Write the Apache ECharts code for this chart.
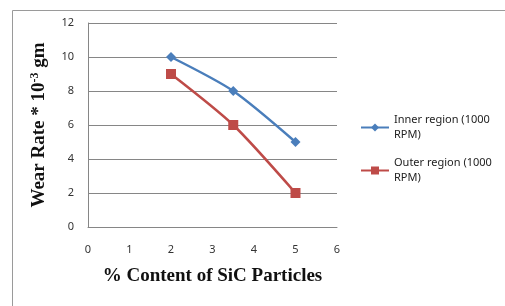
<!DOCTYPE html>
<html>
<head>
<meta charset="utf-8">
<script src="https://cdn.jsdelivr.net/npm/echarts@6/dist/echarts.min.js"></script>
<style>
  html, body { margin: 0; padding: 0; background: #fff; }
  #chart { width: 505px; height: 306px; }
</style>
</head>
<body>
<div id="chart"></div>
<script>
var seriesNames = ['Inner region (1000\nRPM)', 'Outer region (1000\nRPM)'];
var sicContent = [2, 3.5, 5];
var innerWear = [10, 8, 5];
var outerWear = [9, 6, 2];

function pairs(xs, ys) {
  return xs.map(function (x, i) { return [x, ys[i]]; });
}

var myChart = echarts.init(document.getElementById('chart'));
myChart.setOption({
  animation: false,
  graphic: [{
    type: 'rect',
    left: 10,
    top: 8,
    shape: { width: 600, height: 400 },
    style: { fill: 'none', stroke: '#9a9a9a', lineWidth: 1 },
    silent: true
  }],
  grid: { left: 88, right: 168, top: 23, bottom: 79 },
  legend: {
    orient: 'vertical',
    left: 355,
    top: 100,
    itemWidth: 28,
    itemHeight: 10,
    itemGap: -2,
    textStyle: {
      fontFamily: 'Noto Sans',
      fontSize: 11,
      color: '#222',
      lineHeight: 15,
      padding: [15, 0, 0, 0]
    },
    data: seriesNames
  },
  xAxis: {
    type: 'value',
    min: 0,
    max: 6,
    interval: 1,
    name: '% Content of SiC Particles',
    nameLocation: 'middle',
    nameGap: 40,
    nameTextStyle: {
      fontFamily: 'Liberation Serif',
      fontWeight: 'bold',
      fontSize: 19,
      color: '#111'
    },
    axisLine: { lineStyle: { color: '#868686' } },
    axisTick: { show: false },
    splitLine: { show: false },
    axisLabel: { fontFamily: 'Noto Sans', fontSize: 11, color: '#333', margin: 17 }
  },
  yAxis: {
    type: 'value',
    min: 0,
    max: 12,
    interval: 2,
    name: 'Wear Rate * 10{sup|-3} gm',
    nameLocation: 'middle',
    nameRotate: 90,
    nameGap: 38,
    nameTextStyle: {
      fontFamily: 'Liberation Serif',
      fontWeight: 'bold',
      fontSize: 19,
      color: '#111',
      rich: {
        sup: {
          fontFamily: 'Liberation Serif',
          fontWeight: 'bold',
          fontSize: 12,
          color: '#111',
          verticalAlign: 'top',
          padding: [0, 0, 9, 0]
        }
      }
    },
    axisLine: { show: true, lineStyle: { color: '#868686' } },
    axisTick: { show: false },
    splitLine: { lineStyle: { color: '#868686' } },
    axisLabel: { fontFamily: 'Noto Sans', fontSize: 11, color: '#333', margin: 14 }
  },
  series: [{
    name: seriesNames[0],
    type: 'line',
    smooth: 0.25,
    data: pairs(sicContent, innerWear),
    symbol: 'diamond',
    symbolSize: 10,
    lineStyle: { color: '#4a7ebb', width: 2.5 },
    itemStyle: { color: '#4a7ebb' }
  }, {
    name: seriesNames[1],
    type: 'line',
    smooth: 0.25,
    data: pairs(sicContent, outerWear),
    symbol: 'rect',
    symbolSize: 10,
    lineStyle: { color: '#be4b48', width: 2.5 },
    itemStyle: { color: '#be4b48' }
  }]
});
</script>
</body>
</html>
